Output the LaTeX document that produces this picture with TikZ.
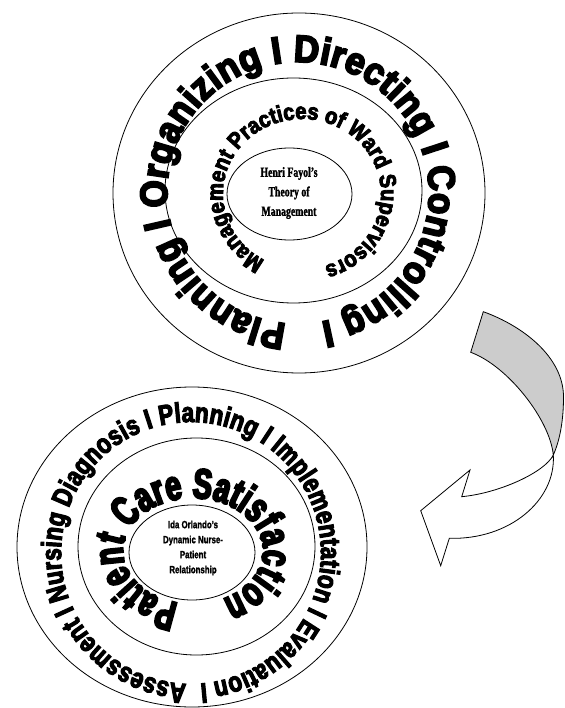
\documentclass[tikz,border=0pt]{standalone}
\usepackage{fontspec}
\usetikzlibrary{decorations.text,shapes.geometric}

% heavy sans for the ring captions, condensed faces for the cores
\newfontfamily\ringTopOuter{Liberation Sans Bold}[FakeBold=5,FakeStretch=0.92]
\newfontfamily\ringTopMid{Liberation Sans Bold}[FakeBold=4,FakeStretch=0.88]
\newfontfamily\ringBotOuter{Liberation Sans Bold}[FakeBold=4,FakeStretch=0.8]
\newfontfamily\ringBotMid{Liberation Sans Bold}[FakeBold=5,FakeStretch=0.68]
\newfontfamily\coreTop{Liberation Serif Bold}[FakeBold=1.5,FakeStretch=0.7]
\newfontfamily\coreBot{Liberation Sans Bold}[FakeBold=1.5,FakeStretch=0.75]

\begin{document}
\begin{tikzpicture}[x=1pt,y=1pt,
  ring/.style={ellipse, draw=black, line width=0.8pt, inner sep=0pt, outer sep=0pt},
  curved/.style={decorate, decoration={text along path, text align=fit to path, text={#1}}},
  ribbon/.style={draw=black, line width=0.8pt, line join=miter},
  coretext/.style={align=center, inner sep=0pt},
]
\useasboundingbox (0,0) rectangle (564,-708);

% ---- management rings ----
\node[ring, minimum width=372, minimum height=360] (topOuter) at (299,-193) {};
\node[ring, minimum width=257, minimum height=225] (topMid) at (293.5,-190.5) {};
\node[ring, minimum width=125, minimum height=92] (topCore) at (289.5,-194) {};
\node[coretext, font=\coreTop\fontsize{14}{19.5}\selectfont] (fayol) at (289,-193)
  {Henri Fayol’s\\Theory of\\Management};

\path[shift={(298,-193)},
  curved={|\ringTopOuter\fontsize{38}{38}\selectfont|Planning I Organizing I Directing I Controlling I}]
  (265:131) arc[start angle=265, end angle=-80, radius=131];

\path[shift={(302,-194)},
  curved={|\ringTopMid\fontsize{23}{23}\selectfont|Management Practices of Ward Supervisors}]
  (242:79 and 75) arc[start angle=242, end angle=-73, x radius=79, y radius=75];

% ---- nursing rings ----
\node[ring, minimum width=350, minimum height=320] (botOuter) at (192,-547) {};
\node[ring, minimum width=237, minimum height=217] (botMid) at (196.5,-546.5) {};
\node[ring, minimum width=126, minimum height=95] (botCore) at (192,-552.5) {};
\node[coretext, font=\coreBot\fontsize{10.5}{15}\selectfont] (orlando) at (193,-548)
  {Ida Orlando’s\\Dynamic Nurse-\\Patient\\Relationship};

\path[shift={(191,-553)},
  curved={|\ringBotOuter\fontsize{28}{28}\selectfont|Assessment I Nursing Diagnosis I Planning I Implementation I Evaluation I}]
  (268:130 and 131) arc[start angle=268, end angle=-86, x radius=130, y radius=131];

\path[shift={(193,-551)},
  curved={|\ringBotMid\fontsize{42}{42}\selectfont|Patient Care Satisfaction}]
  (258:70 and 53) arc[start angle=258, end angle=-65, x radius=70, y radius=53];

% ---- twisted curved arrow ----
\coordinate (tailTop) at (483.3,-311.7);
\coordinate (tailBot) at (470.7,-352.3);
\coordinate (bulge) at (563.5,-397);
\coordinate (twist) at (553.3,-455);
\coordinate (notchUp) at (461.7,-496.7);
\coordinate (barbUp) at (470,-470);
\coordinate (tip) at (420.7,-510.7);
\coordinate (barbLow) at (440.7,-565.7);
\coordinate (notchLow) at (449.3,-538.3);

\path[ribbon, fill=black!20]
  (tailTop) .. controls (523,-326) and (563.5,-357) .. (bulge)
  .. controls (563.5,-420) and (560,-440) .. (twist)
  .. controls (550,-420) and (508,-366) .. (tailBot) -- cycle;

\path[ribbon, fill=white]
  (twist) .. controls (545,-472) and (500,-493) .. (notchUp)
  -- (barbUp) -- (tip) -- (barbLow) -- (notchLow)
  .. controls (510,-540) and (556,-500) .. (twist) -- cycle;
\end{tikzpicture}
\end{document}
